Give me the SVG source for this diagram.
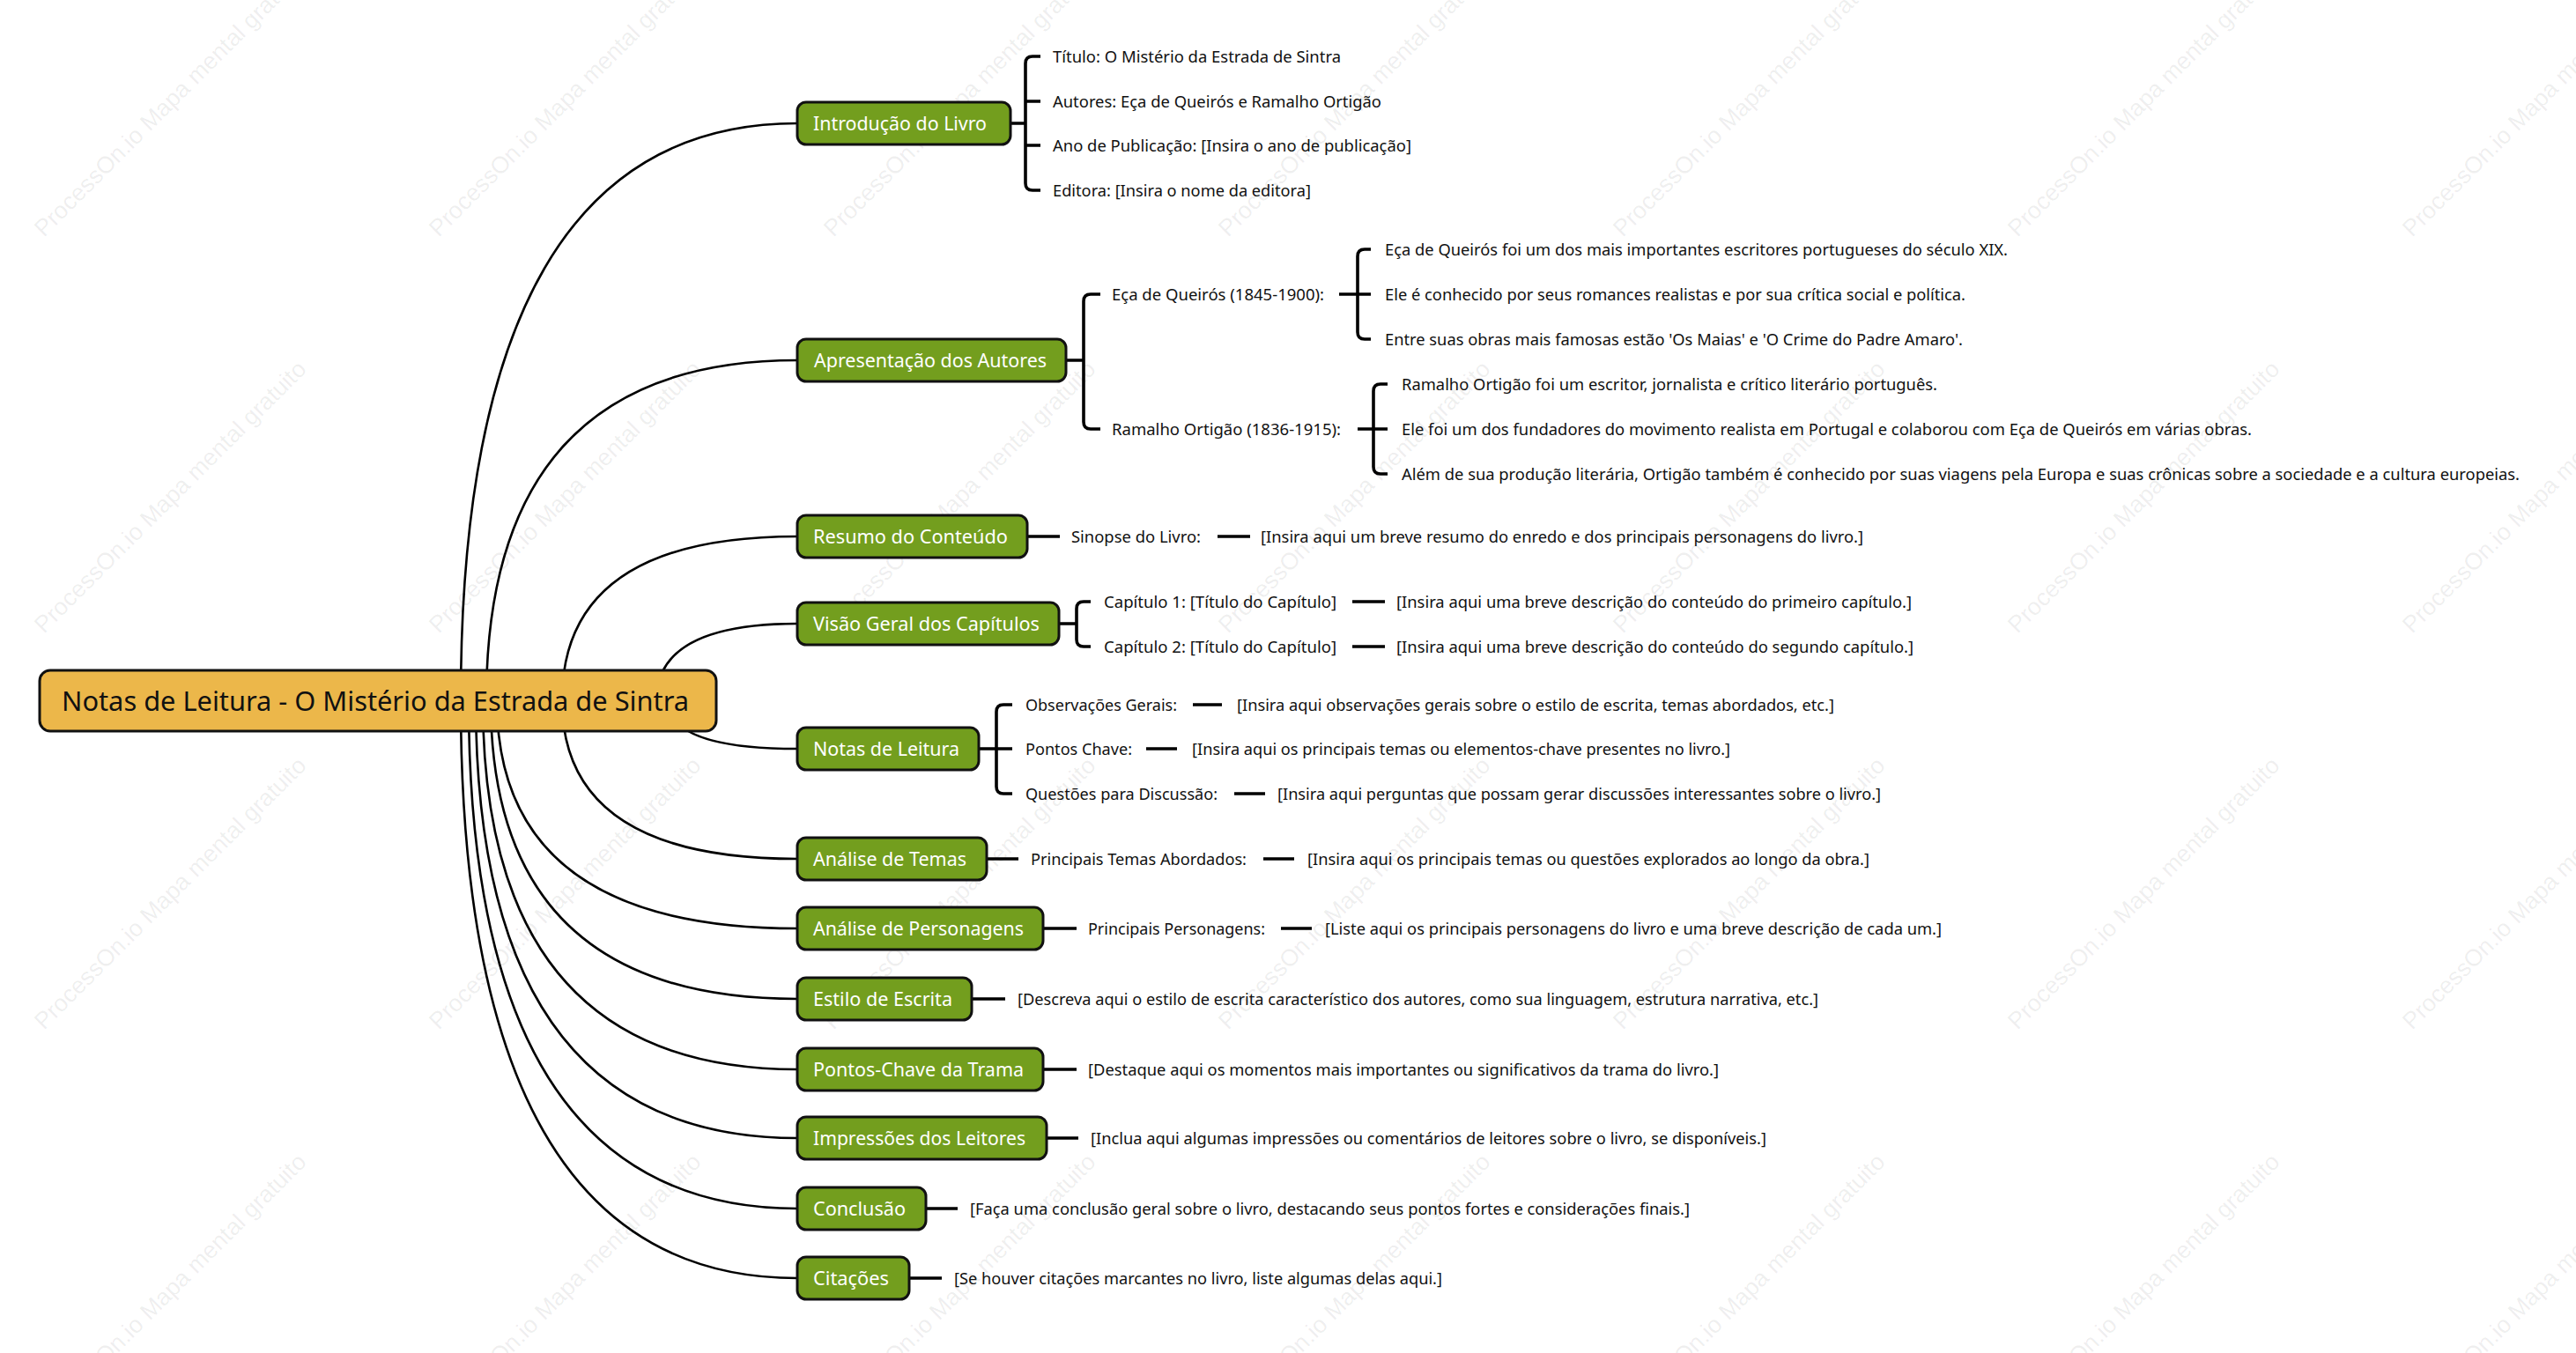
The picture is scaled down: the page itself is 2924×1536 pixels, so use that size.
<svg xmlns="http://www.w3.org/2000/svg" width="2924" height="1536" viewBox="0 0 2924 1536">
<style>
.wm{font-family:"Liberation Sans",Arial,sans-serif;font-size:27px;fill:#000;fill-opacity:0.075}
.curve{fill:none;stroke:#000;stroke-width:2.6}
.br{fill:none;stroke:#000;stroke-width:3.6;stroke-linecap:butt}
.root rect{fill:#ECB74A;stroke:#111;stroke-width:3}
.root text{font-family:"Noto Sans","Open Sans",sans-serif;font-size:31px;fill:#111}
.topic rect{fill:#739E1E;stroke:#111;stroke-width:3}
.topic text{font-family:"Noto Sans","Open Sans",sans-serif;font-size:21.5px;fill:#fff}
.leaf text{font-family:"Noto Sans","Open Sans",sans-serif;font-size:18.5px;fill:#111}
</style>
<rect width="2924" height="1536" fill="#fff"/>
<g id="watermarks">
<text class="wm" x="50" y="270" transform="rotate(-45 50 270)">ProcessOn.io Mapa mental gratuito</text>
<text class="wm" x="498" y="270" transform="rotate(-45 498 270)">ProcessOn.io Mapa mental gratuito</text>
<text class="wm" x="946" y="270" transform="rotate(-45 946 270)">ProcessOn.io Mapa mental gratuito</text>
<text class="wm" x="1394" y="270" transform="rotate(-45 1394 270)">ProcessOn.io Mapa mental gratuito</text>
<text class="wm" x="1842" y="270" transform="rotate(-45 1842 270)">ProcessOn.io Mapa mental gratuito</text>
<text class="wm" x="2290" y="270" transform="rotate(-45 2290 270)">ProcessOn.io Mapa mental gratuito</text>
<text class="wm" x="2738" y="270" transform="rotate(-45 2738 270)">ProcessOn.io Mapa mental gratuito</text>
<text class="wm" x="50" y="720" transform="rotate(-45 50 720)">ProcessOn.io Mapa mental gratuito</text>
<text class="wm" x="498" y="720" transform="rotate(-45 498 720)">ProcessOn.io Mapa mental gratuito</text>
<text class="wm" x="946" y="720" transform="rotate(-45 946 720)">ProcessOn.io Mapa mental gratuito</text>
<text class="wm" x="1394" y="720" transform="rotate(-45 1394 720)">ProcessOn.io Mapa mental gratuito</text>
<text class="wm" x="1842" y="720" transform="rotate(-45 1842 720)">ProcessOn.io Mapa mental gratuito</text>
<text class="wm" x="2290" y="720" transform="rotate(-45 2290 720)">ProcessOn.io Mapa mental gratuito</text>
<text class="wm" x="2738" y="720" transform="rotate(-45 2738 720)">ProcessOn.io Mapa mental gratuito</text>
<text class="wm" x="50" y="1170" transform="rotate(-45 50 1170)">ProcessOn.io Mapa mental gratuito</text>
<text class="wm" x="498" y="1170" transform="rotate(-45 498 1170)">ProcessOn.io Mapa mental gratuito</text>
<text class="wm" x="946" y="1170" transform="rotate(-45 946 1170)">ProcessOn.io Mapa mental gratuito</text>
<text class="wm" x="1394" y="1170" transform="rotate(-45 1394 1170)">ProcessOn.io Mapa mental gratuito</text>
<text class="wm" x="1842" y="1170" transform="rotate(-45 1842 1170)">ProcessOn.io Mapa mental gratuito</text>
<text class="wm" x="2290" y="1170" transform="rotate(-45 2290 1170)">ProcessOn.io Mapa mental gratuito</text>
<text class="wm" x="2738" y="1170" transform="rotate(-45 2738 1170)">ProcessOn.io Mapa mental gratuito</text>
<text class="wm" x="50" y="1620" transform="rotate(-45 50 1620)">ProcessOn.io Mapa mental gratuito</text>
<text class="wm" x="498" y="1620" transform="rotate(-45 498 1620)">ProcessOn.io Mapa mental gratuito</text>
<text class="wm" x="946" y="1620" transform="rotate(-45 946 1620)">ProcessOn.io Mapa mental gratuito</text>
<text class="wm" x="1394" y="1620" transform="rotate(-45 1394 1620)">ProcessOn.io Mapa mental gratuito</text>
<text class="wm" x="1842" y="1620" transform="rotate(-45 1842 1620)">ProcessOn.io Mapa mental gratuito</text>
<text class="wm" x="2290" y="1620" transform="rotate(-45 2290 1620)">ProcessOn.io Mapa mental gratuito</text>
<text class="wm" x="2738" y="1620" transform="rotate(-45 2738 1620)">ProcessOn.io Mapa mental gratuito</text>
</g>
<g id="connectors">
<path class="curve" d="M523 795 Q523 140 905 140"/>
<path class="curve" d="M552 795 Q552 409 905 409"/>
<path class="curve" d="M638 795 Q638 609 905 609"/>
<path class="curve" d="M745 795 Q745 708 905 708"/>
<path class="curve" d="M758 795 Q758 850 905 850"/>
<path class="curve" d="M638 795 Q638 975 905 975"/>
<path class="curve" d="M564 795 Q564 1054 905 1054"/>
<path class="curve" d="M557 795 Q557 1134 905 1134"/>
<path class="curve" d="M548 795 Q548 1214 905 1214"/>
<path class="curve" d="M540 795 Q540 1292 905 1292"/>
<path class="curve" d="M532 795 Q532 1372 905 1372"/>
<path class="curve" d="M523 795 Q523 1451 905 1451"/>
<!-- Introdução bracket -->
<path class="br" d="M1147 140 H1164 M1181 64 H1172 Q1164 64 1164 72 V208 Q1164 216 1172 216 H1181 M1164 115 H1181 M1164 165 H1181"/>
<!-- Apresentação bracket -->
<path class="br" d="M1210 409 H1230 M1249 334 H1238 Q1230 334 1230 342 V479 Q1230 487 1238 487 H1249"/>
<path class="br" d="M1520 334 H1556 M1556 283 H1549 Q1541 283 1541 291 V377 Q1541 385 1549 385 H1556"/>
<path class="br" d="M1541 487 H1575 M1575 436 H1567 Q1559 436 1559 444 V530 Q1559 538 1567 538 H1575"/>
<!-- Resumo -->
<path class="br" d="M1166 609 H1203 M1382 609 H1419"/>
<!-- Visão -->
<path class="br" d="M1202 708 H1222 M1238 683 H1230 Q1222 683 1222 691 V726 Q1222 734 1230 734 H1238 M1535 683 H1572 M1535 734 H1572"/>
<!-- Notas de Leitura -->
<path class="br" d="M1111 850 H1149 M1149 800 H1139 Q1131 800 1131 808 V893 Q1131 901 1139 901 H1149 M1354 800 H1387 M1301 850 H1336 M1401 901 H1436"/>
<!-- single-child branches -->
<path class="br" d="M1120 975 H1156 M1434 975 H1469"/>
<path class="br" d="M1184 1054 H1222 M1454 1054 H1489"/>
<path class="br" d="M1103 1134 H1141"/>
<path class="br" d="M1184 1214 H1222"/>
<path class="br" d="M1188 1292 H1224"/>
<path class="br" d="M1051 1372 H1087"/>
<path class="br" d="M1032 1451 H1069"/>
</g>
<g id="root" class="root">
<rect x="45" y="761" width="768" height="69" rx="12"/>
<text x="70" y="807" textLength="712" lengthAdjust="spacingAndGlyphs">Notas de Leitura - O Mistério da Estrada de Sintra</text>
</g>
<g id="t-introducao" class="topic"><rect x="905" y="116" width="242" height="48" rx="10"/><text x="923" y="147.5" textLength="197" lengthAdjust="spacingAndGlyphs">Introdução do Livro</text></g>
<g id="t-apresentacao" class="topic"><rect x="905" y="385" width="305" height="48" rx="10"/><text x="924" y="416.5" textLength="264" lengthAdjust="spacingAndGlyphs">Apresentação dos Autores</text></g>
<g id="t-resumo" class="topic"><rect x="905" y="585" width="261" height="48" rx="10"/><text x="923" y="616.5" textLength="221" lengthAdjust="spacingAndGlyphs">Resumo do Conteúdo</text></g>
<g id="t-visao" class="topic"><rect x="905" y="684" width="297" height="48" rx="10"/><text x="923" y="715.5" textLength="257" lengthAdjust="spacingAndGlyphs">Visão Geral dos Capítulos</text></g>
<g id="t-notas" class="topic"><rect x="905" y="826" width="206" height="48" rx="10"/><text x="923" y="857.5" textLength="166" lengthAdjust="spacingAndGlyphs">Notas de Leitura</text></g>
<g id="t-temas" class="topic"><rect x="905" y="951" width="215" height="48" rx="10"/><text x="923" y="982.5" textLength="174" lengthAdjust="spacingAndGlyphs">Análise de Temas</text></g>
<g id="t-personagens" class="topic"><rect x="905" y="1030" width="279" height="48" rx="10"/><text x="923" y="1061.5" textLength="239" lengthAdjust="spacingAndGlyphs">Análise de Personagens</text></g>
<g id="t-estilo" class="topic"><rect x="905" y="1110" width="198" height="48" rx="10"/><text x="923" y="1141.5" textLength="158" lengthAdjust="spacingAndGlyphs">Estilo de Escrita</text></g>
<g id="t-pontos" class="topic"><rect x="905" y="1190" width="279" height="48" rx="10"/><text x="923" y="1221.5" textLength="239" lengthAdjust="spacingAndGlyphs">Pontos-Chave da Trama</text></g>
<g id="t-impressoes" class="topic"><rect x="905" y="1268" width="283" height="48" rx="10"/><text x="923" y="1299.5" textLength="241" lengthAdjust="spacingAndGlyphs">Impressões dos Leitores</text></g>
<g id="t-conclusao" class="topic"><rect x="905" y="1348" width="146" height="48" rx="10"/><text x="923" y="1379.5" textLength="105" lengthAdjust="spacingAndGlyphs">Conclusão</text></g>
<g id="t-citacoes" class="topic"><rect x="905" y="1427" width="127" height="48" rx="10"/><text x="923" y="1458.5" textLength="86" lengthAdjust="spacingAndGlyphs">Citações</text></g>
<g class="leaf">
<g id="l-titulo"><text x="1195" y="70.5" textLength="327" lengthAdjust="spacingAndGlyphs">Título: O Mistério da Estrada de Sintra</text></g>
<g id="l-autores"><text x="1195" y="121.5" textLength="373" lengthAdjust="spacingAndGlyphs">Autores: Eça de Queirós e Ramalho Ortigão</text></g>
<g id="l-ano"><text x="1195" y="171.5" textLength="407" lengthAdjust="spacingAndGlyphs">Ano de Publicação: [Insira o ano de publicação]</text></g>
<g id="l-editora"><text x="1195" y="222.5" textLength="293" lengthAdjust="spacingAndGlyphs">Editora: [Insira o nome da editora]</text></g>
<g id="l-eca"><text x="1262" y="340.5" textLength="241" lengthAdjust="spacingAndGlyphs">Eça de Queirós (1845-1900):</text></g>
<g id="l-ramalho"><text x="1262" y="493.5" textLength="260" lengthAdjust="spacingAndGlyphs">Ramalho Ortigão (1836-1915):</text></g>
<g id="l-eca1"><text x="1572" y="289.5" textLength="707" lengthAdjust="spacingAndGlyphs">Eça de Queirós foi um dos mais importantes escritores portugueses do século XIX.</text></g>
<g id="l-eca2"><text x="1572" y="340.5" textLength="659" lengthAdjust="spacingAndGlyphs">Ele é conhecido por seus romances realistas e por sua crítica social e política.</text></g>
<g id="l-eca3"><text x="1572" y="391.5" textLength="656" lengthAdjust="spacingAndGlyphs">Entre suas obras mais famosas estão 'Os Maias' e 'O Crime do Padre Amaro'.</text></g>
<g id="l-ram1"><text x="1591" y="442.5" textLength="608" lengthAdjust="spacingAndGlyphs">Ramalho Ortigão foi um escritor, jornalista e crítico literário português.</text></g>
<g id="l-ram2"><text x="1591" y="493.5" textLength="965" lengthAdjust="spacingAndGlyphs">Ele foi um dos fundadores do movimento realista em Portugal e colaborou com Eça de Queirós em várias obras.</text></g>
<g id="l-ram3"><text x="1591" y="544.5" textLength="1269" lengthAdjust="spacingAndGlyphs">Além de sua produção literária, Ortigão também é conhecido por suas viagens pela Europa e suas crônicas sobre a sociedade e a cultura europeias.</text></g>
<g id="l-sinopse"><text x="1216" y="615.5" textLength="147" lengthAdjust="spacingAndGlyphs">Sinopse do Livro:</text></g>
<g id="l-sinopse-d"><text x="1431" y="615.5" textLength="684" lengthAdjust="spacingAndGlyphs">[Insira aqui um breve resumo do enredo e dos principais personagens do livro.]</text></g>
<g id="l-cap1"><text x="1253" y="689.5" textLength="264" lengthAdjust="spacingAndGlyphs">Capítulo 1: [Título do Capítulo]</text></g>
<g id="l-cap1-d"><text x="1585" y="689.5" textLength="585" lengthAdjust="spacingAndGlyphs">[Insira aqui uma breve descrição do conteúdo do primeiro capítulo.]</text></g>
<g id="l-cap2"><text x="1253" y="740.5" textLength="264" lengthAdjust="spacingAndGlyphs">Capítulo 2: [Título do Capítulo]</text></g>
<g id="l-cap2-d"><text x="1585" y="740.5" textLength="587" lengthAdjust="spacingAndGlyphs">[Insira aqui uma breve descrição do conteúdo do segundo capítulo.]</text></g>
<g id="l-obs"><text x="1164" y="806.5" textLength="172" lengthAdjust="spacingAndGlyphs">Observações Gerais:</text></g>
<g id="l-obs-d"><text x="1404" y="806.5" textLength="678" lengthAdjust="spacingAndGlyphs">[Insira aqui observações gerais sobre o estilo de escrita, temas abordados, etc.]</text></g>
<g id="l-pch"><text x="1164" y="856.5" textLength="121" lengthAdjust="spacingAndGlyphs">Pontos Chave:</text></g>
<g id="l-pch-d"><text x="1353" y="856.5" textLength="611" lengthAdjust="spacingAndGlyphs">[Insira aqui os principais temas ou elementos-chave presentes no livro.]</text></g>
<g id="l-quest"><text x="1164" y="907.5" textLength="218" lengthAdjust="spacingAndGlyphs">Questões para Discussão:</text></g>
<g id="l-quest-d"><text x="1450" y="907.5" textLength="685" lengthAdjust="spacingAndGlyphs">[Insira aqui perguntas que possam gerar discussões interessantes sobre o livro.]</text></g>
<g id="l-temas"><text x="1170" y="981.5" textLength="245" lengthAdjust="spacingAndGlyphs">Principais Temas Abordados:</text></g>
<g id="l-temas-d"><text x="1484" y="981.5" textLength="638" lengthAdjust="spacingAndGlyphs">[Insira aqui os principais temas ou questões explorados ao longo da obra.]</text></g>
<g id="l-pers"><text x="1235" y="1060.5" textLength="201" lengthAdjust="spacingAndGlyphs">Principais Personagens:</text></g>
<g id="l-pers-d"><text x="1504" y="1060.5" textLength="700" lengthAdjust="spacingAndGlyphs">[Liste aqui os principais personagens do livro e uma breve descrição de cada um.]</text></g>
<g id="l-estilo"><text x="1155" y="1140.5" textLength="909" lengthAdjust="spacingAndGlyphs">[Descreva aqui o estilo de escrita característico dos autores, como sua linguagem, estrutura narrativa, etc.]</text></g>
<g id="l-pontos"><text x="1235" y="1220.5" textLength="716" lengthAdjust="spacingAndGlyphs">[Destaque aqui os momentos mais importantes ou significativos da trama do livro.]</text></g>
<g id="l-impr"><text x="1238" y="1298.5" textLength="767" lengthAdjust="spacingAndGlyphs">[Inclua aqui algumas impressões ou comentários de leitores sobre o livro, se disponíveis.]</text></g>
<g id="l-concl"><text x="1101" y="1378.5" textLength="817" lengthAdjust="spacingAndGlyphs">[Faça uma conclusão geral sobre o livro, destacando seus pontos fortes e considerações finais.]</text></g>
<g id="l-cit"><text x="1083" y="1457.5" textLength="554" lengthAdjust="spacingAndGlyphs">[Se houver citações marcantes no livro, liste algumas delas aqui.]</text></g>
</g>
</svg>
